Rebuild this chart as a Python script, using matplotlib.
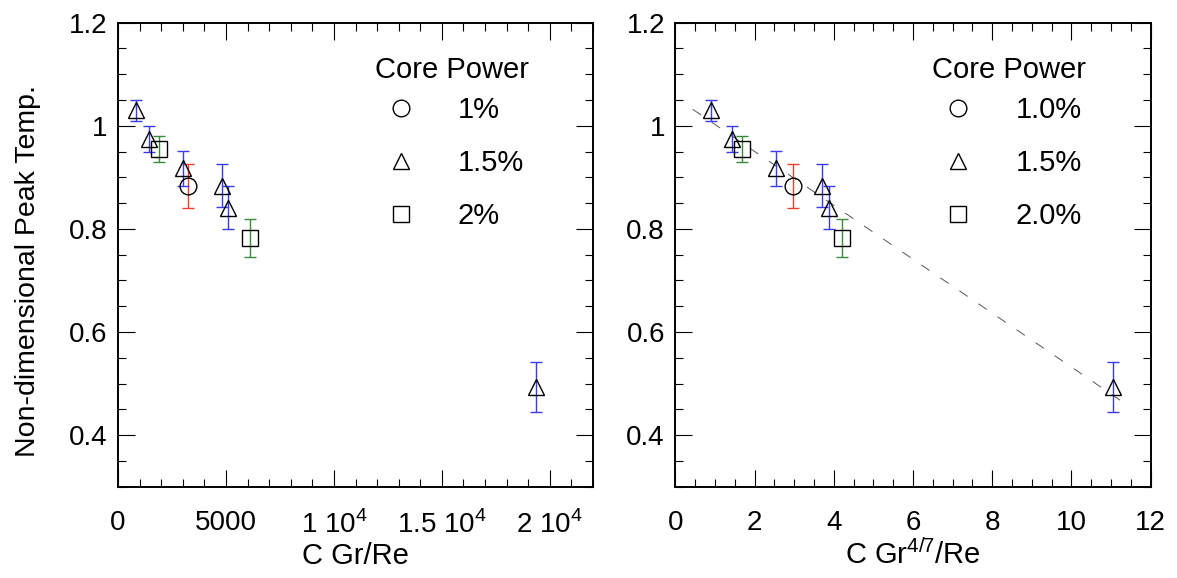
import matplotlib
matplotlib.use("Agg")
import matplotlib.pyplot as plt
from matplotlib.lines import Line2D
from matplotlib.ticker import MultipleLocator, FixedLocator, FixedFormatter
import numpy as np

plt.rcParams['font.family'] = ['Liberation Sans', 'DejaVu Sans']
plt.rcParams['mathtext.fontset'] = 'custom'
plt.rcParams['mathtext.rm'] = 'Liberation Sans'

# Non-dimensional peak temperature for each core power level
temp_1p0 = [0.883]
err_1p0 = [0.043]
temp_1p5 = [1.030, 0.974, 0.9175, 0.884, 0.8415, 0.4934]
err_1p5 = [0.020, 0.025, 0.034, 0.042, 0.042, 0.048]
temp_2p0 = [0.9555, 0.783]
err_2p0 = [0.025, 0.037]

# Abscissa: C Gr/Re
grre_1p0 = [3240]
grre_1p5 = [820, 1440, 3000, 4820, 5080, 19360]
grre_2p0 = [1910, 6110]

# Abscissa: C Gr^(4/7)/Re
gr47_1p0 = [2.97]
gr47_1p5 = [0.893, 1.42, 2.54, 3.70, 3.87, 11.06]
gr47_2p0 = [1.68, 4.21]

# Linear correlation in C Gr^(4/7)/Re
fit_intercept = 1.055
fit_slope = -0.0523
fit_range = [0.44, 11.45]

left_ticks = [0, 5000, 10000, 15000, 20000]
left_ticklabels = ['0', '5000', r'1 10$^{4}$', r'1.5 10$^{4}$', r'2 10$^{4}$']
right_ticks = [0, 2, 4, 6, 8, 10, 12]
y_ticks = [0.4, 0.6, 0.8, 1.0, 1.2]
y_ticklabels = ['0.4', '0.6', '0.8', '1', '1.2']

legend_title = 'Core Power'
legend_left = ['1%', '1.5%', '2%']
legend_right = ['1.0%', '1.5%', '2.0%']

W, H = 1177, 578
fig = plt.figure(figsize=(W / 100, H / 100), dpi=100)
ax1 = fig.add_axes([118 / W, (H - 486.7) / H, 475 / W, 464 / H])
ax2 = fig.add_axes([675.3 / W, (H - 486.7) / H, 475.4 / W, 464 / H])

BLUE = '#3a3aec'
RED = '#e8402c'
GREEN = '#3a8a3a'
TICK_FS = 20
LABEL_FS = 21
LEG_FS = 21
MS = 12


def draw_series(ax, xs, ys, es, marker, ecolor):
    ax.errorbar(xs, ys, yerr=es, fmt='none', ecolor=ecolor, elinewidth=1.0,
                capsize=4.2, capthick=1.0, zorder=2)
    ax.plot(xs, ys, linestyle='none', marker=marker, markersize=MS,
            markerfacecolor='none', markeredgecolor='black',
            markeredgewidth=1.0, zorder=3)


def style_axes(ax):
    ax.set_ylim(0.3, 1.2)
    ax.yaxis.set_major_locator(FixedLocator(y_ticks))
    ax.yaxis.set_major_formatter(FixedFormatter(y_ticklabels))
    ax.yaxis.set_minor_locator(MultipleLocator(0.05))
    ax.tick_params(which='both', direction='in', top=True, right=True,
                   labelsize=TICK_FS, width=0.8)
    ax.tick_params(axis='x', pad=17)
    ax.tick_params(axis='y', pad=7.5)
    ax.tick_params(which='major', length=12)
    ax.tick_params(which='minor', length=6)
    for s in ax.spines.values():
        s.set_linewidth(1.4)


def add_legend(ax, labels):
    ax.text(0.541, 0.898, legend_title, transform=ax.transAxes,
            fontsize=LEG_FS, ha='left', va='center')
    handles = [Line2D([], [], linestyle='none', marker=m, markersize=MS,
                      markerfacecolor='none', markeredgecolor='black',
                      markeredgewidth=1.0) for m in ['o', '^', 's']]
    ax.legend(handles, labels, loc='center left',
              bbox_to_anchor=(0.534, 0.6976), frameon=False,
              fontsize=LEG_FS, handlelength=2.0, handletextpad=0.96,
              labelspacing=0.86, borderpad=0, borderaxespad=0)


# Left panel: C Gr/Re
draw_series(ax1, grre_1p0, temp_1p0, err_1p0, 'o', RED)
draw_series(ax1, grre_1p5, temp_1p5, err_1p5, '^', BLUE)
draw_series(ax1, grre_2p0, temp_2p0, err_2p0, 's', GREEN)
ax1.set_xlim(0, 22000)
ax1.xaxis.set_major_locator(FixedLocator(left_ticks))
ax1.xaxis.set_major_formatter(FixedFormatter(left_ticklabels))
ax1.xaxis.set_minor_locator(MultipleLocator(1000))
style_axes(ax1)
ax1.set_xlabel('C Gr/Re', fontsize=LABEL_FS, labelpad=2)
ax1.set_ylabel('Non-dimensional Peak Temp.', fontsize=20.5, labelpad=20)
ax1.yaxis.label.set_y(0.465)
add_legend(ax1, legend_left)

# Right panel: C Gr^(4/7)/Re
fx = np.array(fit_range)
ax2.plot(fx, fit_intercept + fit_slope * fx, color='#555555', linewidth=0.7,
         linestyle=(0, (10.3, 13.4)), zorder=1)
draw_series(ax2, gr47_1p0, temp_1p0, err_1p0, 'o', RED)
draw_series(ax2, gr47_1p5, temp_1p5, err_1p5, '^', BLUE)
draw_series(ax2, gr47_2p0, temp_2p0, err_2p0, 's', GREEN)
ax2.set_xlim(0, 12)
ax2.xaxis.set_major_locator(FixedLocator(right_ticks))
ax2.xaxis.set_minor_locator(MultipleLocator(0.5))
style_axes(ax2)
ax2.set_xlabel(r'C Gr$^{4/7}$/Re', fontsize=LABEL_FS, labelpad=2)
add_legend(ax2, legend_right)

fig.savefig('out.png', dpi=100)
